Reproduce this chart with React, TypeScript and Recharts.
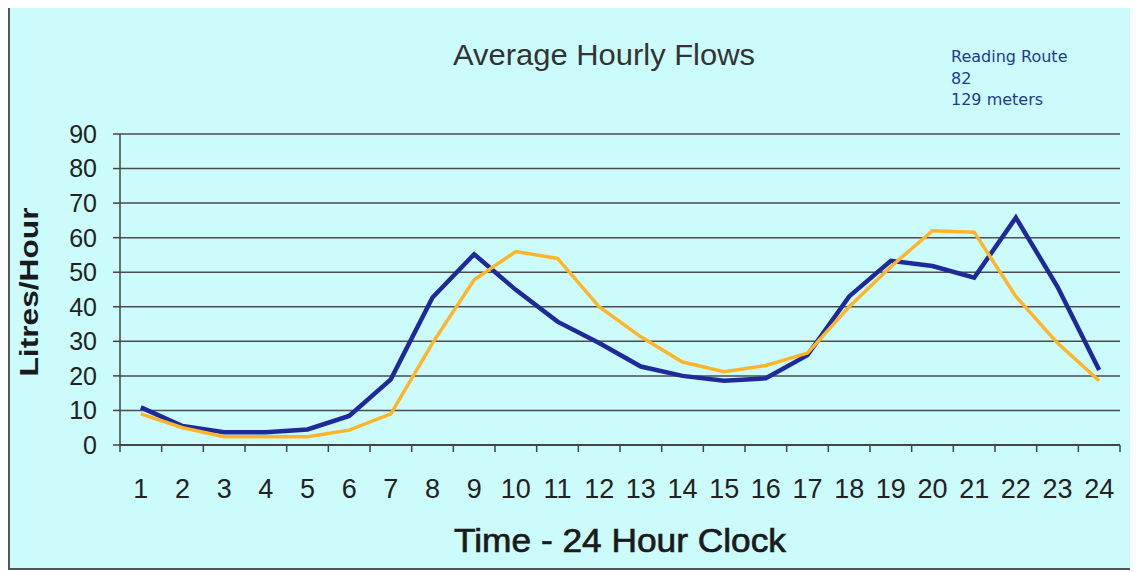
import React from "react";
import { LineChart, Line, XAxis, YAxis, CartesianGrid } from "recharts";

const hours = [1, 2, 3, 4, 5, 6, 7, 8, 9, 10, 11, 12, 13, 14, 15, 16, 17, 18, 19, 20, 21, 22, 23, 24];
const blueFlow = [10.9, 5.5, 3.7, 3.7, 4.5, 8.4, 19, 42.7, 55.2, 44.9, 35.7, 29.5, 22.7, 20, 18.6, 19.3, 26, 43, 53.3, 51.8, 48.4, 65.8, 45.8, 21.7];
const orangeFlow = [9, 5, 2.4, 2.4, 2.4, 4.3, 9, 29.5, 47.8, 56, 54, 40, 31.3, 24, 21.2, 23, 26.6, 40, 51.6, 62, 61.6, 43, 29.5, 18.6];
const yTicks = [0, 10, 20, 30, 40, 50, 60, 70, 80, 90];

const title = "Average Hourly Flows";
const noteLines = ["Reading Route", "82", "129 meters"];
const xTitle = "Time - 24 Hour Clock";
const yTitle = "Litres/Hour";

const data = hours.map((h, i) => ({ hour: h, blue: blueFlow[i], orange: orangeFlow[i] }));
const xTicks = hours.flatMap((h) => [h - 0.5, h]).concat([hours[hours.length - 1] + 0.5]);

const W = 1128;
const H = 563;
const FONT = "'Liberation Sans', Arial, Helvetica, sans-serif";

const XTick = (props: any) => {
  const { x, y, payload } = props;
  const v = payload.value;
  if (Number.isInteger(v)) {
    return (
      <text x={x} y={y + 53} textAnchor="middle" fontSize={27} fontFamily={FONT} fill="#222">
        {v}
      </text>
    );
  }
  return <line x1={x} x2={x} y1={y} y2={y + 7} stroke="#444" strokeWidth={1.5} />;
};

export default function App() {
  return (
    <div
      style={{
        position: "relative",
        width: W,
        height: H,
        marginTop: -1,
        background: "#cbfbfb",
        boxShadow: "inset 2px 0 0 #555, inset 0 -2px 0 #555, inset -2px 0 0 #999",
      }}
    >
      <LineChart width={W} height={H} data={data} margin={{ top: 127, right: 16, left: 52, bottom: 65 }}>
        <CartesianGrid vertical={false} stroke="#4d4d4d" strokeWidth={1.5} />
        <XAxis
          dataKey="hour"
          type="number"
          domain={[0.5, 24.5]}
          ticks={xTicks}
          interval={0}
          tick={<XTick />}
          tickLine={false}
          tickSize={0}
          tickMargin={0}
          height={60}
          axisLine={{ stroke: "#444", strokeWidth: 2 }}
        />
        <YAxis
          domain={[0, 90]}
          ticks={yTicks}
          interval={0}
          width={60}
          tickSize={7}
          tickMargin={16}
          tick={{ fontSize: 25, fill: "#222", fontFamily: FONT }}
          tickLine={{ stroke: "#444", strokeWidth: 1.5 }}
          axisLine={{ stroke: "#444", strokeWidth: 1.5 }}
        />
        <Line dataKey="blue" stroke="#1f2a9a" strokeWidth={4.5} dot={false} isAnimationActive={false} type="linear" />
        <Line dataKey="orange" stroke="#ffb42a" strokeWidth={3.5} dot={false} isAnimationActive={false} type="linear" />
      </LineChart>
      <svg width={W} height={H} style={{ position: "absolute", left: 0, top: 0, pointerEvents: "none" }}>
        <text x={596} y={58} textAnchor="middle" fontSize={29} fontFamily={FONT} fill="#333" textLength={302} lengthAdjust="spacingAndGlyphs">
          {title}
        </text>
        {noteLines.map((t, i) => (
          <text key={t} x={943} y={55 + i * 21.5} fontSize={16} fontFamily="'DejaVu Sans', Verdana, sans-serif" fill="#1d3c8c">
            {t}
          </text>
        ))}
        <text
          x={612}
          y={545}
          textAnchor="middle"
          fontSize={34}
          fontFamily={FONT}
          fill="#1a1a1a"
          stroke="#1a1a1a"
          strokeWidth={0.7}
          textLength={332}
          lengthAdjust="spacingAndGlyphs"
        >
          {xTitle}
        </text>
        <text
          transform="translate(30,285) rotate(-90)"
          x={0}
          y={0}
          textAnchor="middle"
          fontSize={26}
          fontWeight="bold"
          fontFamily={FONT}
          fill="#1a1a1a"
          textLength={169}
          lengthAdjust="spacingAndGlyphs"
        >
          {yTitle}
        </text>
      </svg>
    </div>
  );
}
